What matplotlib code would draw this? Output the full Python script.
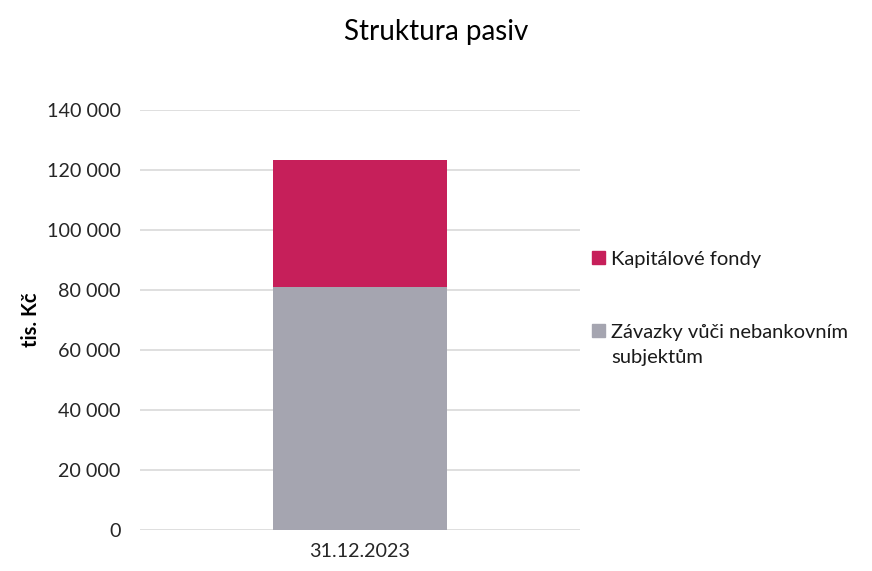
import matplotlib.pyplot as plt
from matplotlib.patches import Rectangle
from matplotlib.ticker import FuncFormatter

plt.rcParams['font.family'] = ['Lato', 'DejaVu Sans']

# data
categories = ['31.12.2023']
zavazky = [81000]
kapital = [42500]
series_names = ['Závazky vůči nebankovním\nsubjektům', 'Kapitálové fondy']
colors = ['#a5a5b0', '#c61f5a']

fig = plt.figure(figsize=(8.72, 5.71), dpi=100)
ax = fig.add_axes([0.1606, 0.0718, 0.5044, 0.7355])

ax.bar(categories, zavazky, width=0.395, color=colors[0], zorder=2)
ax.bar(categories, kapital, bottom=zavazky, width=0.395, color=colors[1], zorder=2)

ax.set_xlim(-0.5, 0.5)
ax.set_ylim(0, 140000)
ax.set_yticks(range(0, 140001, 20000))
ax.yaxis.set_major_formatter(FuncFormatter(lambda v, p: f'{int(v):,}'.replace(',', ' ')))
ax.grid(axis='y', color='#d9d9d9', linewidth=1.2, zorder=0)
for s in ax.spines.values():
    s.set_visible(False)
ax.tick_params(length=0, labelsize=14.2, colors='#262626', pad=14)
ax.tick_params(axis='x', pad=9)
fig.text(0.036, 0.44, 'tis. Kč', rotation=90, fontsize=14.5, fontweight='bold',
         ha='center', va='center')

fig.suptitle('Struktura pasiv', fontsize=20, x=0.5, y=0.967)

# legend drawn by hand (Kapitálové fondy on top), to keep the wide line spacing
leg_y = [1 - 257 / 571, 1 - 330 / 571]
for name, col, y in zip(series_names[::-1], colors[::-1], leg_y):
    fig.patches.append(Rectangle((592 / 872, y - 6.5 / 571), 13 / 872, 13 / 571,
                                 transform=fig.transFigure, color=col, figure=fig))
    fig.text(611 / 872, y + 6 / 571, name, fontsize=14.5, ha='left', va='top',
             linespacing=1.55, color='#1a1a1a')

fig.savefig('out.png', dpi=100)
